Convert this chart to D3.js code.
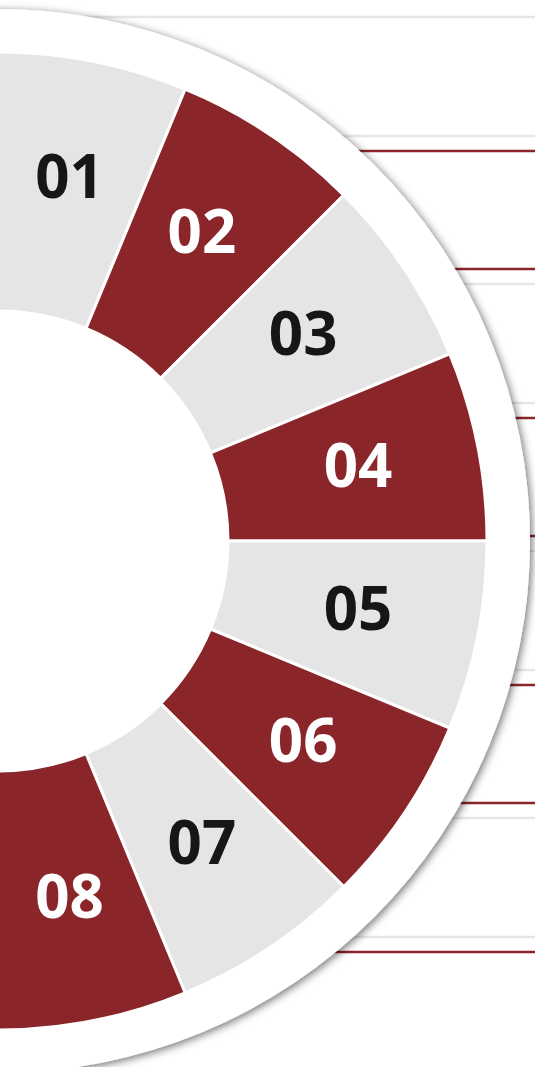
<!DOCTYPE html>
<html>
<head>
<meta charset="utf-8">
<script src="https://cdn.jsdelivr.net/npm/d3@7"></script>
<style>
  html, body { margin: 0; padding: 0; background: #fff; overflow: hidden; }
  svg { display: block; }
</style>
</head>
<body>
<div id="chart"></div>
<script>
// segment labels, top to bottom around the half wheel
const labels = ["01", "02", "03", "04", "05", "06", "07", "08"]
// which segments are the dark ones
const tones = ["light", "dark", "light", "dark", "light", "dark", "light", "dark"]
// every segment has the same share
const shares = [1, 1, 1, 1, 1, 1, 1, 1]

// the thin rules that run out behind the wheel (page units, top to bottom)
const grayRules = [17, 136, 284, 403, 551, 670, 818, 937]
const redRules = [151, 269, 418, 536, 685, 803, 952]

const layout = ({
  width: 535,
  height: 1067,
  cx: -2,
  cy: 541,
  inner: 230,
  outer: 489,
  ring: 532,
  labelR: 367
})

const colors = {
  light: "#e5e5e5",
  dark: "#8a252a",
  rule: "#e6e6e6",
  textLight: "#ffffff",
  textDark: "#161616"
}

const w = layout.width
const h = layout.height

const svg = d3.select("#chart").append("svg")
  .attr("width", w)
  .attr("height", h)

// shadow for the white ring
const defs = svg.append("defs")
const f = defs.append("filter")
  .attr("id", "ringShadow")
  .attr("x", "-20%").attr("y", "-20%")
  .attr("width", "140%").attr("height", "140%")
f.append("feDropShadow")
  .attr("dx", 2)
  .attr("dy", 2)
  .attr("stdDeviation", 4)
  .attr("flood-color", "#000")
  .attr("flood-opacity", 0.55)

// y scale for the rules
const y = d3.scaleLinear().domain([0, 1067]).range([0, h])

// rules first, so the ring covers them
svg.append("g")
  .selectAll("line.gray")
  .data(grayRules)
  .join("line")
  .attr("class", "gray")
  .attr("x1", 0).attr("x2", w)
  .attr("y1", d => y(d)).attr("y2", d => y(d))
  .attr("stroke", colors.rule)
  .attr("stroke-width", 2.5)

svg.append("g")
  .selectAll("line.red")
  .data(redRules)
  .join("line")
  .attr("class", "red")
  .attr("x1", 0).attr("x2", w)
  .attr("y1", d => y(d)).attr("y2", d => y(d))
  .attr("stroke", colors.dark)
  .attr("stroke-width", 2.5)

const g = svg.append("g")
  .attr("transform", `translate(${layout.cx}, ${layout.cy})`)

// white ring with shadow
g.append("circle")
  .attr("r", layout.ring)
  .attr("fill", "#fff")
  .attr("filter", "url(#ringShadow)")

const pie = d3.pie()
  .sort(null)
  .startAngle(0)
  .endAngle(Math.PI)

const arcs = pie(shares)

const arc = d3.arc()
  .innerRadius(layout.inner)
  .outerRadius(layout.outer)

g.selectAll("path.seg")
  .data(arcs)
  .join("path")
  .attr("class", "seg")
  .attr("d", arc)
  .attr("fill", (d, i) => colors[tones[i]])
  .attr("stroke", "#fff")
  .attr("stroke-width", 3)
  .attr("stroke-linejoin", "miter")

const labelArc = d3.arc()
  .innerRadius(layout.labelR)
  .outerRadius(layout.labelR)

g.selectAll("text.lbl")
  .data(arcs)
  .join("text")
  .attr("class", "lbl")
  .attr("transform", d => `translate(${labelArc.centroid(d)})`)
  .attr("text-anchor", "middle")
  .attr("dy", "0.29em")
  .attr("font-family", "'Open Sans', sans-serif")
  .attr("font-weight", 700)
  .attr("font-size", 60)
  .attr("fill", (d, i) => tones[i] === "dark" ? colors.textLight : colors.textDark)
  .text((d, i) => labels[i])
</script>
</body>
</html>
